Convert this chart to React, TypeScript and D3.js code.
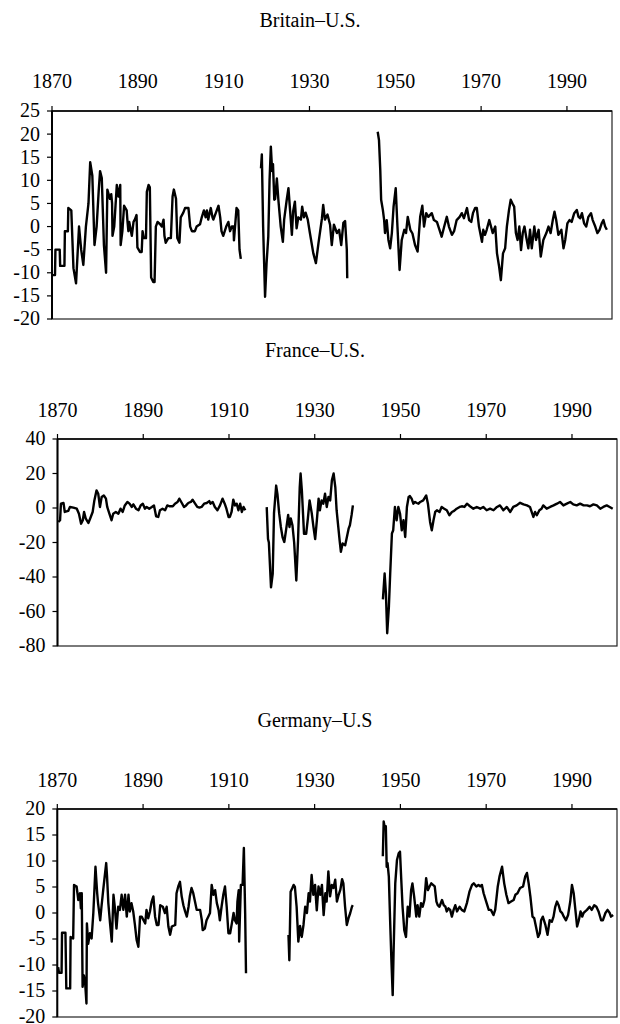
import * as d3 from 'd3'

type Pt = [number, number]

// x axis (top) ticks shared by the three panels
const yearTicks = [1870, 1890, 1910, 1930, 1950, 1970, 1990]

// Britain–U.S.
const britainGold: Pt[] = [
  [1870.0, -10.5], [1870.7, -10.5], [1870.8, -5], [1871.8, -5], [1871.9, -8.5], [1872.9, -8.5],
  [1873.0, -1], [1873.7, -1], [1873.8, 4], [1874.5, 3.5], [1875.0, -9], [1875.6, -12.3],
  [1876.3, 0], [1876.8, -5], [1877.3, -8.3], [1877.9, 0], [1878.5, 5], [1878.9, 13.9],
  [1879.4, 11], [1879.9, -4], [1880.4, 0], [1880.9, 8], [1881.2, 12], [1881.6, 10.5],
  [1882.1, -4], [1882.6, -10], [1882.9, 8], [1883.5, 6], [1883.8, 7], [1884.0, 5],
  [1884.1, -2], [1884.5, 0], [1885.1, 9], [1885.5, 6.5], [1885.9, 9], [1886.0, -4],
  [1886.4, -1], [1886.8, 4.5], [1887.4, 3.5], [1887.6, 1], [1887.8, -1], [1888.0, 1],
  [1888.6, -2], [1889.0, 1], [1889.3, 1.5], [1889.7, 2.5], [1889.9, -4.5], [1890.5, -5.5],
  [1890.9, -5.5], [1891.1, -1], [1891.4, -2.5], [1891.9, -2.5], [1892.1, 7.5], [1892.5, 9],
  [1892.8, 8.5], [1893.1, -11], [1893.6, -12], [1893.9, -12], [1894.2, 0], [1894.6, 1],
  [1895.2, 0.5], [1895.6, 0], [1896.0, 1.5], [1896.2, -2], [1896.5, -3.5], [1897.1, -2.5],
  [1897.7, -2.5], [1898.1, 6.5], [1898.4, 8], [1898.9, 6], [1899.2, -2.5], [1899.7, -3.5],
  [1900.0, 2], [1900.6, 3], [1901.0, 4], [1901.8, 4], [1902.2, 0], [1902.6, -1],
  [1903.3, -1], [1903.7, 0], [1904.5, 0.5], [1904.9, 2], [1905.4, 3.5], [1905.8, 2],
  [1906.1, 3.5], [1906.4, 1.5], [1907.0, 4], [1907.4, 2], [1907.6, 1.5], [1908.2, 3],
  [1908.8, 4.5], [1909.2, 2], [1909.5, -1], [1909.9, -2], [1910.6, 0], [1911.1, 1],
  [1911.5, -1], [1911.9, 0], [1912.3, 0], [1912.4, -3], [1913.0, 4], [1913.4, 3.5],
  [1913.7, -5], [1914.0, -7],
]
const britainInterwar: Pt[] = [
  [1918.7, 12.6], [1918.9, 15.6], [1919.2, 0], [1919.65, -15.2], [1920.0, -8], [1920.4, -2.2],
  [1920.7, 10], [1921.0, 17.3], [1921.3, 12], [1921.5, 13.5], [1921.8, 5.8], [1922.0, 6],
  [1922.4, 10.4], [1922.75, 5.8], [1923.3, 0], [1923.8, -3.3], [1924.1, 1.5], [1924.7, 5.8],
  [1925.1, 8.3], [1925.5, 3.3], [1925.9, -1.8], [1926.2, 3.3], [1926.6, 5.4], [1927.0, -0.4],
  [1927.4, 2], [1928.0, 1.5], [1928.3, 4.3], [1928.7, 2], [1929.1, 3], [1929.6, 1.5],
  [1930.1, -1.4], [1930.9, -5.8], [1931.5, -7.9], [1932.1, -3.6], [1932.9, 1.7], [1933.2, 4.7],
  [1933.6, 1.5], [1934.2, 2.6], [1934.8, 0.4], [1935.2, -4], [1935.7, 0.4], [1936.4, -1.4],
  [1936.9, -0.7], [1937.4, -4], [1937.9, 0.8], [1938.3, 1.2], [1938.7, -5], [1938.8, -11.2],
]
const britainPostwar: Pt[] = [
  [1945.9, 20.5], [1946.2, 18.7], [1946.5, 12.2], [1946.7, 5.8], [1947.1, 3.6], [1947.4, 1.4],
  [1947.6, -1.4], [1948.0, 1.4], [1948.4, -2.9], [1948.8, -4.7], [1949.2, -1.4], [1949.6, 4.3],
  [1950.1, 8.3], [1950.5, 0], [1951.0, -9.4], [1951.5, -2.9], [1952.1, -0.7], [1952.5, -1.4],
  [1952.9, 2.1], [1953.5, -0.7], [1954.0, -1.5], [1954.6, -4], [1955.2, -5.4], [1955.8, 2.1],
  [1956.3, 4.5], [1956.7, 0], [1957.2, 2.9], [1957.7, 2.1], [1958.5, 2.9], [1959.0, 1.4],
  [1959.7, 1], [1960.3, -0.7], [1960.8, -2.2], [1961.4, 0], [1962.0, 2.1], [1962.5, 0],
  [1963.2, -1.8], [1963.7, -1], [1964.3, 1.4], [1965.0, 2.1], [1965.5, 2.9], [1966.0, 1.8],
  [1966.7, 4], [1967.2, 1.4], [1967.7, 1], [1968.1, 2.9], [1968.6, 4], [1969.0, 4],
  [1969.5, 0], [1970.2, -3.3], [1970.5, -0.7], [1970.9, -1.8], [1971.3, -0.7], [1971.9, 1.4],
  [1972.3, 0], [1972.7, -1.4], [1973.3, 0], [1973.7, -5.8], [1974.2, -8.7], [1974.6, -11.6],
  [1975.1, -5.8], [1975.6, -4.7], [1976.0, 0], [1976.5, 3.6], [1976.9, 5.8], [1977.3, 5],
  [1977.7, 4.3], [1978.1, -1.4], [1978.5, -2.9], [1978.9, 0], [1979.3, -5.1], [1979.7, -1.4],
  [1980.1, 0], [1980.5, -2.2], [1981.0, -4.7], [1981.4, -0.7], [1981.8, -4.7], [1982.4, 0],
  [1982.8, -2.9], [1983.4, -0.7], [1983.9, -6.5], [1984.5, -2.9], [1985.2, -1.4], [1985.7, 0],
  [1986.2, -1.4], [1986.7, 1.4], [1987.1, 3.2], [1987.5, 1.4], [1988.0, -1.8], [1988.7, -0.7],
  [1989.2, -4.7], [1989.6, -2.9], [1990.1, 0.7], [1990.6, 1.4], [1991.1, 1], [1991.7, 2.9],
  [1992.3, 3.6], [1992.7, 2.1], [1993.1, 1.8], [1993.5, 2.9], [1994.0, 0.7], [1994.5, 0],
  [1995.0, 2.1], [1995.6, 2.9], [1996.0, 1.4], [1996.6, 0], [1997.1, -1.4], [1997.6, -0.7],
  [1998.1, 0.7], [1998.5, 1.4], [1998.9, 0], [1999.3, -0.7],
]

// France–U.S.
const franceGold: Pt[] = [
  [1870.2, -8.1], [1870.6, -7.1], [1870.8, 2.5], [1871.4, 2.9], [1871.7, -2.3], [1872.5, -1.7],
  [1872.9, 0.6], [1873.7, 0.2], [1874.5, -0.4], [1875.0, -3.3], [1875.5, -9.1], [1875.9, -7.1],
  [1876.2, -2.3], [1876.6, -6.2], [1877.2, -8.7], [1877.6, -6.2], [1878.2, -2.3], [1878.6, 4.4],
  [1879.1, 10.2], [1879.5, 8.3], [1879.9, 0.6], [1880.3, 6.4], [1880.8, 7.3], [1881.3, 5.4],
  [1881.6, 0.6], [1882.1, -3.3], [1882.6, -7.1], [1883.0, -3.3], [1883.6, -2.3], [1884.2, -3.3],
  [1884.7, -0.4], [1885.2, -2.3], [1885.7, 1.5], [1886.3, 3.5], [1886.8, 2.5], [1887.3, 0.6],
  [1887.7, 2.1], [1888.3, -0.4], [1888.9, -1.3], [1889.4, 1.5], [1889.9, 2.5], [1890.4, -0.4],
  [1890.8, 0.6], [1891.4, -0.4], [1892.0, 0.6], [1892.5, 1.5], [1893.0, -4.8], [1893.5, -5.2],
  [1893.9, -1.3], [1894.5, -0.4], [1895.1, -1.3], [1895.6, 1.5], [1896.2, 1], [1896.9, 1],
  [1897.4, 2.5], [1898.0, 3.5], [1898.4, 5.4], [1899.0, 2.9], [1899.5, 0.6], [1900.0, 1.5],
  [1900.5, 2.9], [1901.1, 3.5], [1901.5, 4.8], [1902.1, 2.5], [1902.6, 0.6], [1903.1, 0.2],
  [1903.6, 0.6], [1904.2, 2.5], [1904.8, 2.9], [1905.4, 4], [1905.7, 2.5], [1906.2, 3.5],
  [1906.7, 0.6], [1907.3, -1.3], [1907.9, 1.5], [1908.5, 5.4], [1909.0, 2.5], [1909.4, -0.4],
  [1909.9, -5.2], [1910.2, -5.2], [1910.6, -2.3], [1911.0, 4.8], [1911.4, 1.5], [1911.8, 2.5],
  [1912.2, -1.3], [1912.6, 2.5], [1913.0, -2.3], [1913.4, 0.6], [1913.8, -1.3],
]
const franceInterwar: Pt[] = [
  [1918.8, 0.5], [1919.1, -18], [1919.3, -20], [1919.8, -46], [1920.2, -38], [1920.5, -3],
  [1921.0, 13], [1921.3, 8], [1921.7, -3], [1922.1, -11], [1922.5, -17], [1922.9, -19.7],
  [1923.3, -13], [1923.8, -4], [1924.1, -11], [1924.4, -6], [1924.8, -10], [1925.2, -20],
  [1925.7, -42], [1926.1, -19], [1926.5, 12], [1926.7, 20], [1927.0, 10], [1927.5, -15],
  [1928.0, -15], [1928.4, -6], [1928.8, 4.4], [1929.3, -3], [1929.7, -11], [1930.1, -18],
  [1930.5, -7], [1930.9, 5.4], [1931.2, -1.3], [1931.6, 4.4], [1932.0, 2.5], [1932.4, 8.3],
  [1932.8, 0.6], [1933.2, 6.4], [1933.6, 4.4], [1934.0, 16], [1934.4, 20], [1934.8, 12],
  [1935.1, -1.3], [1935.8, -18.7], [1936.1, -25.4], [1936.5, -20.6], [1937.1, -21.6], [1937.5, -16.8],
  [1937.9, -12], [1938.2, -10], [1938.6, -4], [1938.9, 1.5],
]
const francePostwar: Pt[] = [
  [1945.9, -53], [1946.3, -38], [1946.6, -49.5], [1946.9, -72.6], [1947.3, -57], [1947.6, -38],
  [1948.0, -14.8], [1948.3, -12.9], [1948.7, 0.6], [1949.1, -7.1], [1949.5, 0.6], [1949.9, -3.3],
  [1950.3, -12.9], [1950.7, -7.1], [1951.1, -16.8], [1951.5, 0.6], [1951.9, 6.4], [1952.2, 6.9],
  [1952.6, 5.4], [1953.0, 2.5], [1953.4, 3.5], [1953.8, 2.9], [1954.2, 2.5], [1954.6, 3.5],
  [1955.3, 4.4], [1956.0, 7.3], [1956.4, 2.5], [1956.9, -8.1], [1957.3, -12.9], [1957.7, -7.1],
  [1958.1, -2.3], [1958.5, -1.3], [1959.1, -2.3], [1959.6, 0.6], [1960.2, -0.4], [1960.8, -1.3],
  [1961.4, -4.2], [1962.0, -2.3], [1962.5, -1.7], [1963.1, -0.4], [1963.8, 0.6], [1964.3, 1],
  [1964.9, 0.6], [1965.5, 2.5], [1966.2, 1], [1967.0, -0.4], [1967.8, 0.6], [1968.6, -0.4],
  [1969.3, 0.6], [1970.1, -1.3], [1970.9, -0.4], [1971.7, -1.3], [1972.5, 0.6], [1973.2, 1.5],
  [1974.0, -1.3], [1974.8, 0.6], [1975.6, -2.3], [1976.3, 0.6], [1977.1, 1.5], [1977.9, 3],
  [1978.7, 2.1], [1979.5, 1.5], [1980.2, 0.6], [1981.0, -5.2], [1981.4, -2.3], [1981.8, -4.2],
  [1982.4, -1.3], [1982.9, -0.4], [1983.3, 1.5], [1984.1, -0.4], [1984.9, 0.6], [1985.7, 1.5],
  [1986.5, 2.5], [1987.2, 3.5], [1988.0, 1.5], [1988.8, 2.5], [1989.6, 3.5], [1990.3, 2.1],
  [1991.1, 1.5], [1991.9, 2.5], [1992.7, 1.5], [1993.5, 1.5], [1994.2, 1], [1995.0, 2.1],
  [1995.8, 1.5], [1996.6, -0.4], [1997.3, 0.6], [1998.1, 1.5], [1998.8, 0.6], [1999.5, -0.4],
]

// Germany–U.S
const germanyGold: Pt[] = [
  [1870.2, -10.4], [1870.4, -11.5], [1871.0, -11.5], [1871.1, -3.8], [1871.9, -3.8], [1872.1, -14.5],
  [1873.0, -14.5], [1873.1, -4.6], [1873.7, -4.9], [1873.9, 5.4], [1874.5, 5.1], [1874.9, 2.5],
  [1875.3, 3.8], [1875.5, 0.9], [1875.7, 3.8], [1875.9, -14.2], [1876.2, -12], [1876.5, -13.6],
  [1876.8, -17.4], [1876.9, -2], [1877.2, -5.9], [1877.6, -3.9], [1878.0, -4.9], [1878.4, 0],
  [1878.9, 8.9], [1879.3, 3.8], [1879.5, 1.9], [1880.0, -1.4], [1880.3, 1.2], [1880.7, 4.4],
  [1881.4, 9.6], [1881.6, 7], [1881.9, 1.9], [1882.3, -2], [1882.7, -5.5], [1883.1, 3.5],
  [1883.4, 1.2], [1883.8, -3], [1884.2, 1.2], [1884.6, 0.6], [1885.0, 3.5], [1885.4, 0.6],
  [1885.8, 3.5], [1886.2, -0.7], [1886.6, 3.5], [1886.9, 0.3], [1887.3, 1.9], [1887.7, 0.3],
  [1888.1, -2.3], [1888.5, -5.2], [1888.9, -6.5], [1889.3, -0.7], [1889.7, -0.7], [1890.1, -1.4],
  [1890.5, -2], [1890.8, 0.6], [1891.2, -1], [1891.6, 0.3], [1892.0, 2.2], [1892.4, 3.2],
  [1892.8, -0.7], [1893.2, -2.3], [1893.6, -2.3], [1894.0, 1.5], [1894.6, 1.2], [1895.1, 0],
  [1895.5, 1.2], [1895.9, -2.6], [1896.3, -4.2], [1896.7, -2.6], [1897.5, -2.3], [1897.8, 3.8],
  [1898.2, 5.1], [1898.6, 6], [1899.0, 3.2], [1899.4, 1.5], [1899.8, 0.3], [1900.2, -0.7],
  [1900.6, 1.2], [1900.9, 3.2], [1901.3, 4.8], [1901.7, 3.8], [1902.1, 2.2], [1902.5, 0.6],
  [1903.3, 0.6], [1903.7, -1.4], [1903.9, -3.3], [1904.4, -3], [1904.8, -1.4], [1905.2, -0.7],
  [1905.6, 0], [1906.0, 5.4], [1906.4, 3.5], [1906.8, 4.4], [1907.2, 1.9], [1907.6, 0.6],
  [1907.9, -1.4], [1908.3, 1.2], [1908.7, 3.5], [1909.1, 5.1], [1909.5, 1.2], [1909.9, -3.9],
  [1910.3, -3.9], [1910.7, -2], [1911.1, 0], [1911.4, -1.4], [1911.8, -2], [1912.0, 2.2],
  [1912.3, 4.4], [1912.4, -5.5], [1912.8, 5.4], [1913.2, 5.4], [1913.5, 12.5], [1913.8, 0],
  [1914.0, -11.6],
]
const germanyInterwar: Pt[] = [
  [1923.9, -4.2], [1924.1, -9.1], [1924.4, 4.1], [1924.8, 4.8], [1925.1, 5.4], [1925.4, 5],
  [1925.8, 1.2], [1926.2, -5.5], [1926.6, -2.5], [1927.0, -4.6], [1927.4, -2.3], [1927.8, 1.2],
  [1928.2, 0], [1928.6, 3.8], [1928.9, 2.2], [1929.3, 7.3], [1929.7, 3.5], [1930.1, 5.4],
  [1930.5, 0.5], [1930.9, 5.1], [1931.3, 3.5], [1931.7, 5.4], [1932.1, -0.4], [1932.5, 3.8],
  [1932.8, 2.2], [1933.2, 8], [1933.6, 3.2], [1934.0, 5.4], [1934.4, 4.8], [1934.8, 6.4],
  [1935.2, 2.2], [1935.6, 3.5], [1936.0, 4.5], [1936.4, 6.5], [1936.7, 5.7], [1937.1, 1.2],
  [1937.5, -2.3], [1937.9, -1], [1938.3, 0], [1938.7, 1.2], [1938.9, 1.5],
]
const germanyPostwar: Pt[] = [
  [1945.9, 10.9], [1946.1, 17.6], [1946.3, 16.7], [1946.6, 16.7], [1946.8, 8.9], [1947.0, 9.6],
  [1947.3, 7], [1947.6, -1.4], [1947.9, -9.1], [1948.2, -15.8], [1948.4, -7.8], [1948.8, 5.7],
  [1949.2, 10.2], [1949.6, 11.5], [1949.9, 11.8], [1950.2, 6.4], [1950.5, 1.2], [1950.9, -3.3],
  [1951.3, -4.6], [1951.7, 1.2], [1952.1, -0.7], [1952.5, 4.4], [1952.8, 5.7], [1953.2, 3.2],
  [1953.7, -0.7], [1954.0, 1.5], [1954.4, -0.7], [1954.8, 1.9], [1955.2, 1.2], [1955.6, 2.5],
  [1956.0, 6.7], [1956.4, 4.4], [1956.8, 5.1], [1957.2, 5.7], [1957.6, 5.4], [1958.0, 5.1],
  [1958.4, 2.2], [1958.7, 1.5], [1959.1, 1.2], [1959.7, 2.5], [1960.1, 1.5], [1960.5, 1.2],
  [1960.8, 0.3], [1961.2, 0.9], [1961.6, 0.6], [1962.0, -0.7], [1962.4, 0.6], [1962.8, 1.5],
  [1963.2, 0.3], [1963.8, 1.2], [1964.3, 0.6], [1964.9, 0.3], [1965.5, 1.9], [1966.1, 4.1],
  [1966.7, 5.4], [1967.1, 5.7], [1967.7, 5.1], [1968.2, 5.4], [1968.6, 5.1], [1969.0, 5.4],
  [1969.4, 3.8], [1970.0, 2.2], [1970.6, 0.6], [1971.1, 0.6], [1971.7, -0.4], [1972.1, 0.6],
  [1972.7, 5.1], [1973.1, 7], [1973.7, 8.9], [1974.2, 5.7], [1974.7, 3.5], [1975.2, 1.9],
  [1975.8, 2.2], [1976.4, 2.5], [1976.8, 3.5], [1977.3, 3.8], [1977.9, 4.8], [1978.6, 5.1],
  [1979.1, 7], [1979.5, 7.7], [1979.9, 5.7], [1980.3, 3.2], [1980.8, -0.7], [1981.2, -1],
  [1981.6, -2.6], [1982.1, -4.6], [1982.5, -3.9], [1982.8, -1.4], [1983.2, -0.7], [1983.8, -2.3],
  [1984.3, -4.2], [1984.8, -1.4], [1985.3, -1.7], [1985.7, -0.7], [1986.1, 1.2], [1986.5, 2.2],
  [1986.9, 1.5], [1987.3, 0.3], [1987.7, 0], [1988.1, -0.7], [1988.6, -1.4], [1989.1, -0.4],
  [1989.6, 2.2], [1990.0, 5.4], [1990.4, 3.8], [1990.8, 0.6], [1991.2, -2.6], [1991.6, -1.4],
  [1992.0, 0.3], [1992.4, -0.7], [1992.7, 0], [1993.1, 0.3], [1993.5, 0.6], [1994.1, 1.2],
  [1994.6, 0.6], [1995.2, 1.5], [1995.7, 1.2], [1996.2, 0.3], [1996.8, -1.4], [1997.2, -1.4],
  [1997.8, 0], [1998.3, 0.6], [1998.8, 0], [1999.1, -0.7], [1999.6, -0.4],
]

const britainTicks = d3.range(-20, 26, 5)
const franceTicks = d3.range(-80, 41, 20)
const germanyTicks = d3.range(-20, 21, 5)

const panels = [
  {
    title: 'Britain–U.S.', titleX: 310, titleY: 27, labelY: 88,
    top: 111, bottom: 319, left: 52, right: 612,
    ticks: britainTicks, series: [britainGold, britainInterwar, britainPostwar],
  },
  {
    title: 'France–U.S.', titleX: 315, titleY: 357, labelY: 417,
    top: 439, bottom: 646, left: 57.5, right: 617,
    ticks: franceTicks, series: [franceGold, franceInterwar, francePostwar],
  },
  {
    title: 'Germany–U.S', titleX: 315, titleY: 727, labelY: 787,
    top: 809, bottom: 1017, left: 57.3, right: 617,
    ticks: germanyTicks, series: [germanyGold, germanyInterwar, germanyPostwar],
  },
]

const font = '"Liberation Serif", "Times New Roman", serif'

const Panel = ({ p }) => {
  const x = d3.scaleLinear().domain([1870, 2000.5]).range([p.left, p.right])
  const y = d3.scaleLinear().domain(d3.extent(p.ticks) as [number, number]).range([p.bottom, p.top])
  const line = d3.line<Pt>().x(d => x(d[0])).y(d => y(d[1]))

  return (
    <g fontFamily={font} fontSize={20} fill="#000">
      <text x={p.titleX} y={p.titleY} textAnchor="middle">{p.title}</text>

      {/* frame: heavy left/top axes, lighter right/bottom edges */}
      <rect x={p.left} y={p.top} width={p.right - p.left} height={p.bottom - p.top}
        fill="none" stroke="#222" strokeWidth={1.2} />
      <line x1={p.left} x2={p.left} y1={p.top} y2={p.bottom} stroke="#000" strokeWidth={2} />
      <line x1={p.left} x2={p.right} y1={p.top} y2={p.top} stroke="#000" strokeWidth={1.6} />

      {yearTicks.map(t => (
        <g key={t}>
          <line x1={x(t)} x2={x(t)} y1={p.top} y2={p.top - 5} stroke="#000" strokeWidth={1.2} />
          <text x={x(t)} y={p.labelY} textAnchor="middle">{t}</text>
        </g>
      ))}

      {p.ticks.map(t => (
        <g key={t}>
          <line x1={p.left - 5} x2={p.left} y1={y(t)} y2={y(t)} stroke="#000" strokeWidth={1.2} />
          <text x={p.left - 12} y={y(t)} dy="0.32em" textAnchor="end">{String(t)}</text>
        </g>
      ))}

      {p.series.map((s, i) => (
        <path key={i} d={line(s)} fill="none" stroke="#000" strokeWidth={2.4}
          strokeLinejoin="round" />
      ))}
    </g>
  )
}

export default function App() {
  return (
    <svg width={620} height={1024} viewBox="0 0 620 1024"
      style={{ position: 'absolute', left: 0, top: 0, background: '#fff' }}>
      {panels.map(p => <Panel key={p.title} p={p} />)}
    </svg>
  )
}
